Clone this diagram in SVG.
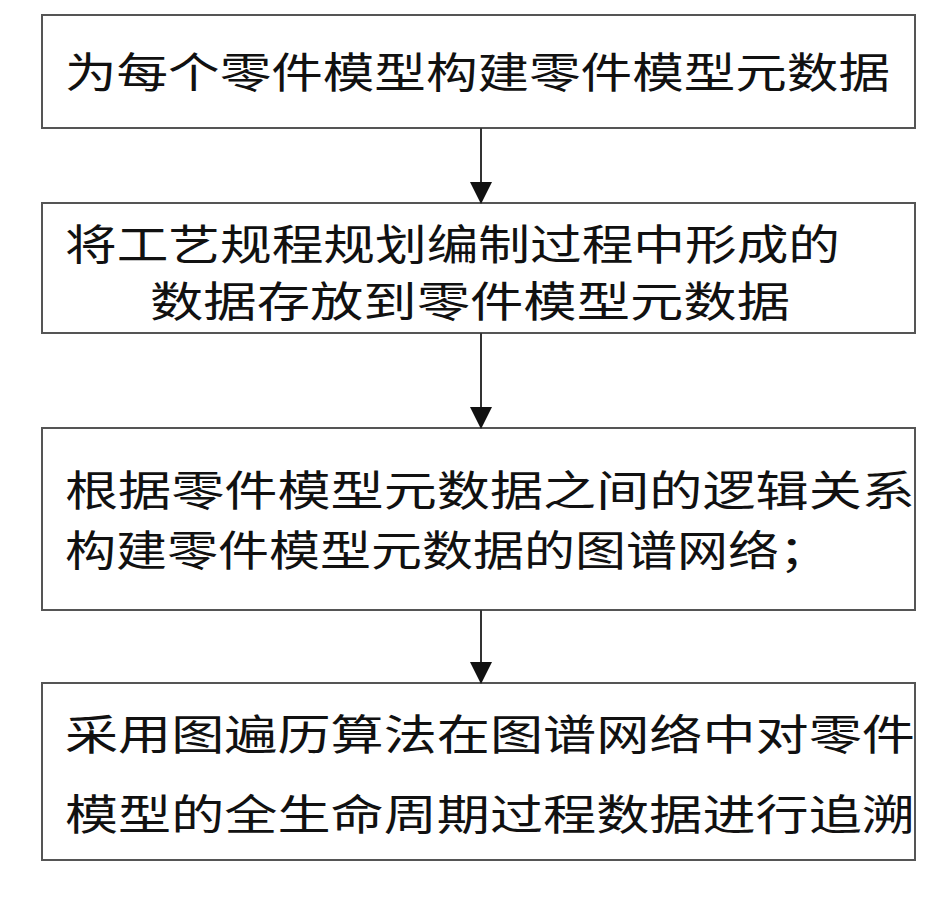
<svg xmlns="http://www.w3.org/2000/svg" width="934" height="903" viewBox="0 0 934 903">
<style>
.b{fill:#fff;stroke:#555;stroke-width:2}
.t{font-family:"Noto Sans CJK SC",sans-serif;font-size:42px;fill:#111}
.c{stroke:#333;stroke-width:2;fill:none}
</style>
<defs><marker id="a" markerWidth="22" markerHeight="24" refX="20" refY="11" orient="auto" markerUnits="userSpaceOnUse"><path d="M0,0 L22,11 L0,22 Z" fill="#111"/></marker></defs>
<rect width="934" height="903" fill="#fff"/>
<g id="n1"><rect class="b" x="42" y="15" width="873" height="113"/><text class="t" x="65" y="88" textLength="825" lengthAdjust="spacingAndGlyphs">为每个零件模型构建零件模型元数据</text></g>
<g id="n2"><rect class="b" x="42" y="203" width="873" height="130"/><text class="t" x="65" y="260" textLength="775" lengthAdjust="spacingAndGlyphs">将工艺规程规划编制过程中形成的</text><text class="t" x="150" y="317" textLength="640" lengthAdjust="spacingAndGlyphs">数据存放到零件模型元数据</text></g>
<g id="n3"><rect class="b" x="42" y="428" width="873" height="182"/><text class="t" x="65" y="506" textLength="850" lengthAdjust="spacingAndGlyphs">根据零件模型元数据之间的逻辑关系</text><text class="t" x="65" y="566" textLength="765" lengthAdjust="spacingAndGlyphs">构建零件模型元数据的图谱网络；</text></g>
<g id="n4"><rect class="b" x="42" y="683" width="873" height="177"/><text class="t" x="65" y="750" textLength="850" lengthAdjust="spacingAndGlyphs">采用图遍历算法在图谱网络中对零件</text><text class="t" x="65" y="830" textLength="850" lengthAdjust="spacingAndGlyphs">模型的全生命周期过程数据进行追溯</text></g>
<g id="edges">
<line class="c" x1="481" y1="128" x2="481" y2="202" marker-end="url(#a)"/>
<line class="c" x1="481" y1="333" x2="481" y2="427" marker-end="url(#a)"/>
<line class="c" x1="481" y1="610" x2="481" y2="682" marker-end="url(#a)"/>
</g>
</svg>
